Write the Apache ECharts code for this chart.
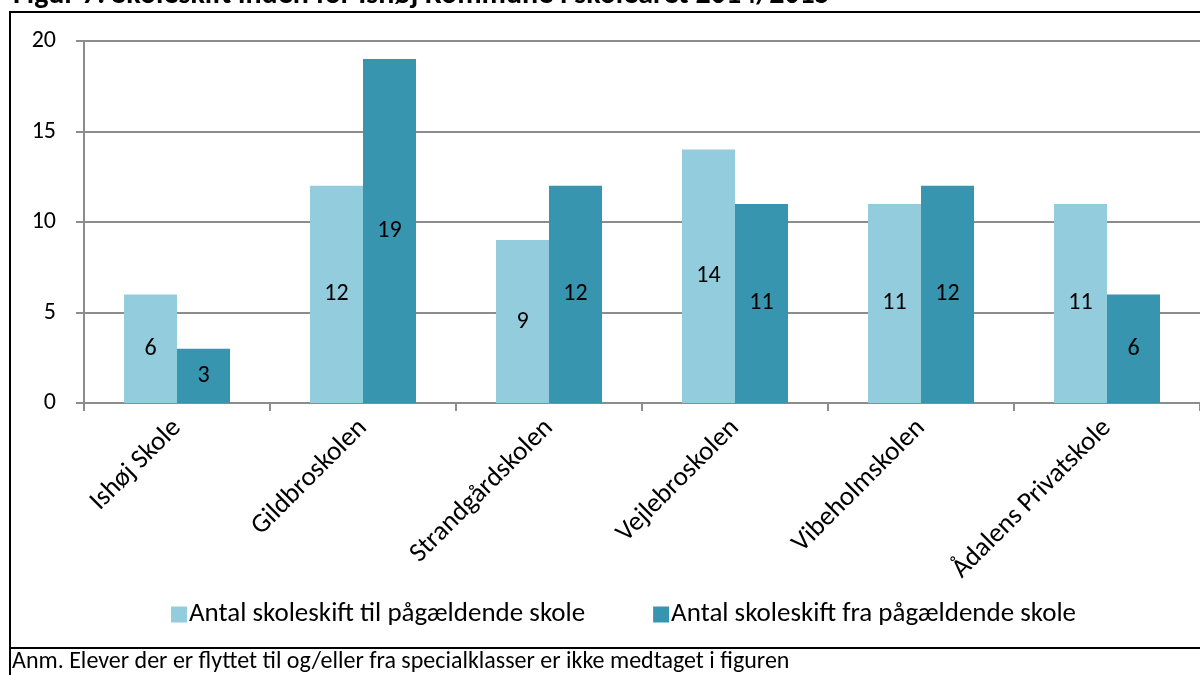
<!DOCTYPE html>
<html>
<head>
<meta charset="utf-8">
<script src="https://cdn.jsdelivr.net/npm/echarts@6/dist/echarts.min.js"></script>
<style>
  html, body { margin: 0; padding: 0; background: #fff; }
  #chart { width: 1200px; height: 675px; }
</style>
</head>
<body>
<div id="chart"></div>
<script>
// skoler og antal skoleskift
var skoler = ['Ishøj Skole', 'Gildbroskolen', 'Strandgårdskolen', 'Vejlebroskolen', 'Vibeholmskolen', 'Ådalens Privatskole'];
var tilSkole = [6, 12, 9, 14, 11, 11];
var fraSkole = [3, 19, 12, 11, 12, 6];
var yTicks = [0, 5, 10, 15, 20];
var serieNavne = ['Antal skoleskift til pågældende skole', 'Antal skoleskift fra pågældende skole'];

var font = 'Calibri, Carlito, "Open Sans", sans-serif';
var chart = echarts.init(document.getElementById('chart'));

function bar_serie(name, data, color){
    return {
        name: name,
        type: 'bar',
        data: data,
        barGap: '0%',
        barCategoryGap: '43%',
        itemStyle: { color: color },
        label: {
            show: true,
            position: 'inside',
            color: '#000',
            fontSize: 24,
            fontFamily: font
        }
    };
}

var option = {
    animation: false,
    title: {
        text: 'Figur 7: Skoleskift inden for Ishøj Kommune i skoleåret 2014/2015',
        left: 8,
        top: -25,
        textStyle: { fontSize: 30, fontWeight: 'bold', color: '#000', fontFamily: font }
    },
    legend: {
        data: serieNavne,
        left: 166,
        top: 596,
        itemWidth: 16,
        itemHeight: 16,
        itemGap: 68,
        icon: 'rect',
        textStyle: { fontSize: 27, color: '#000', fontFamily: font, padding: [0, 0, 0, -3] }
    },
    grid: { left: 84, right: -2, top: 41, bottom: 272, containLabel: false },
    xAxis: {
        type: 'category',
        data: skoler,
        axisLine: { lineStyle: { color: '#8c8c8c', width: 2 } },
        axisTick: { show: true, length: 8, lineStyle: { color: '#8c8c8c', width: 2 } },
        axisLabel: { rotate: 45, fontSize: 27, color: '#000', fontFamily: font, margin: 21, interval: 0 }
    },
    yAxis: {
        type: 'value',
        min: yTicks[0],
        max: yTicks[yTicks.length - 1],
        interval: 5,
        axisLine: { show: true, lineStyle: { color: '#8c8c8c', width: 2 } },
        axisTick: { show: true, length: 8, lineStyle: { color: '#8c8c8c', width: 2 } },
        splitLine: { lineStyle: { color: '#8c8c8c', width: 2 } },
        axisLabel: { fontSize: 24, color: '#000', fontFamily: font, margin: 28 }
    },
    series: [
        bar_serie(serieNavne[0], tilSkole, '#93cddd'),
        bar_serie(serieNavne[1], fraSkole, '#3795b0')
    ],
    graphic: [
        { type: 'rect', shape: { x: 10, y: 12, width: 1200, height: 700 },
          style: { fill: 'none', stroke: '#000', lineWidth: 2 }, z: 100 },
        { type: 'line', shape: { x1: 10, y1: 648, x2: 1200, y2: 648 },
          style: { stroke: '#000', lineWidth: 2 }, z: 100 },
        { type: 'text', left: 12, top: 650,
          style: { text: 'Anm. Elever der er flyttet til og/eller fra specialklasser er ikke medtaget i figuren',
                   fontSize: 24, fill: '#000', fontFamily: font } }
    ]
};

chart.setOption(option);
</script>
</body>
</html>
